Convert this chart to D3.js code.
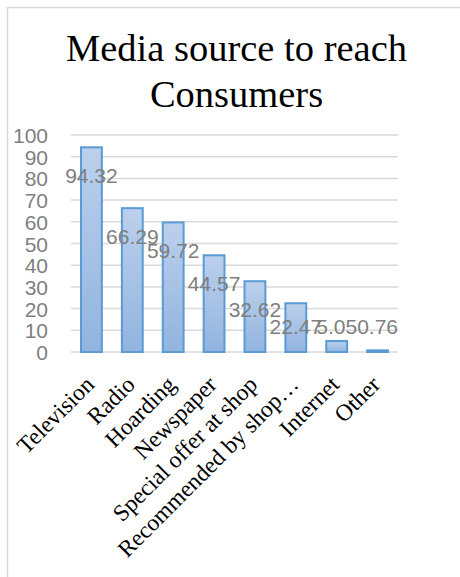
<!DOCTYPE html>
<html>
<head>
<meta charset="utf-8">
<script src="https://cdn.jsdelivr.net/npm/d3@7/dist/d3.min.js"></script>
<style>
  html, body { margin: 0; padding: 0; background: #ffffff; }
  svg { display: block; }
</style>
</head>
<body>
<svg id="chart" width="460" height="577"></svg>
<script>
// Media sources used to reach consumers (%)
const categories = ["Television", "Radio", "Hoarding", "Newspaper",
  "Special offer at shop", "Recommended by shop\u2026", "Internet", "Other"];
const values = [94.32, 66.29, 59.72, 44.57, 32.62, 22.47, 5.05, 0.76];
const yTicks = [0, 10, 20, 30, 40, 50, 60, 70, 80, 90, 100];
const titleLines = ["Media source to reach", "Consumers"];

const svg = d3.select("#chart");
const W = 460, H = 577;
const margin = { left: 71, right: 62, top: 135, bottom: 225 };

// chart frame (left and top edges visible)
svg.append("path")
  .attr("d", `M7.5,${H} L7.5,7.5 L${W},7.5`)
  .attr("fill", "none")
  .attr("stroke", "#d9d9d9")
  .attr("stroke-width", 1.5);

// title
const title = svg.append("text")
  .attr("text-anchor", "middle")
  .attr("font-family", "'Liberation Serif', 'Times New Roman', serif")
  .attr("font-size", 38.5)
  .attr("fill", "#000");
titleLines.forEach((t, i) => {
  title.append("tspan").attr("x", 236.5).attr("y", 61 + i * 46).text(t);
});

const x = d3.scaleBand()
  .domain(categories)
  .range([margin.left, W - margin.right])
  .paddingInner(0.49)
  .paddingOuter(0.245);

const y = d3.scaleLinear()
  .domain([0, 100])
  .range([H - margin.bottom, margin.top]);

// bar gradient
const defs = svg.append("defs");
const grad = defs.append("linearGradient")
  .attr("id", "barFill")
  .attr("x1", 0).attr("y1", 0).attr("x2", 0).attr("y2", 1);
grad.append("stop").attr("offset", "0%").attr("stop-color", "#bbd0ec");
grad.append("stop").attr("offset", "100%").attr("stop-color", "#92b4df");

// gridlines
svg.append("g")
  .selectAll("line")
  .data(yTicks)
  .join("line")
  .attr("x1", margin.left)
  .attr("x2", W - margin.right)
  .attr("y1", d => y(d))
  .attr("y2", d => y(d))
  .attr("stroke", "#d9d9d9")
  .attr("stroke-width", 1.5);

// y axis labels
const yAxis = d3.axisLeft(y).tickValues(yTicks).tickSize(0).tickPadding(0)
  .tickFormat(d3.format("d"));
const yG = svg.append("g")
  .attr("transform", `translate(${margin.left - 23},0)`)
  .call(yAxis);
yG.select(".domain").remove();
yG.selectAll("text")
  .attr("font-family", "'Liberation Sans', Arial, sans-serif")
  .attr("font-size", 21)
  .attr("fill", "#7f7f7f")
  .attr("dy", "0.36em");

// bars
svg.append("g")
  .selectAll("rect")
  .data(values)
  .join("rect")
  .attr("x", (d, i) => x(categories[i]))
  .attr("y", d => y(d))
  .attr("width", x.bandwidth())
  .attr("height", d => y(0) - y(d))
  .attr("fill", "url(#barFill)")
  .attr("stroke", "#5b9bd5")
  .attr("stroke-width", 2);

// data labels (inside end, kept above the baseline for short bars)
svg.append("g")
  .selectAll("text")
  .data(values)
  .join("text")
  .attr("x", (d, i) => x(categories[i]) + x.bandwidth() / 2)
  .attr("y", d => Math.min(y(d) + 28, y(0) - 25.6))
  .attr("dy", "0.36em")
  .attr("text-anchor", "middle")
  .attr("font-family", "'Liberation Sans', Arial, sans-serif")
  .attr("font-size", 21)
  .attr("fill", "#7f7f7f")
  .text(d => d.toFixed(2));

// x axis: category labels rotated 45 degrees
const xAxis = d3.axisBottom(x).tickSize(0).tickPadding(0);
const xG = svg.append("g")
  .attr("transform", `translate(0,${y(0)})`)
  .call(xAxis);
xG.select(".domain").remove();
xG.selectAll("text")
  .attr("font-family", "'Liberation Serif', 'Times New Roman', serif")
  .attr("font-size", 23.5)
  .attr("fill", "#000")
  .attr("text-anchor", "end")
  .attr("dy", null)
  .attr("y", null)
  .attr("transform", "translate(4,34) rotate(-45)");
</script>
</body>
</html>
